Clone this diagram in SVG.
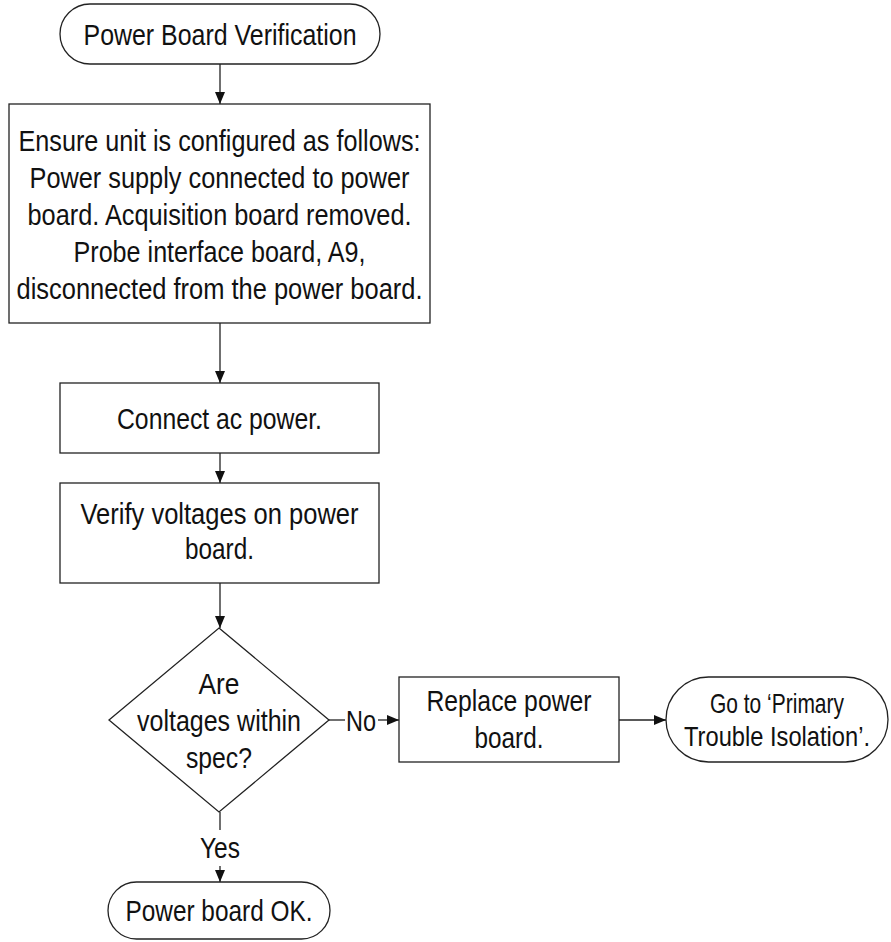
<svg xmlns="http://www.w3.org/2000/svg" width="891" height="942" viewBox="0 0 891 942">
<style>
.s{fill:#fff;stroke:#222;stroke-width:1.3}
.c{fill:none;stroke:#222;stroke-width:1.3}
text{font-family:"Liberation Sans",Arial,sans-serif;font-size:30px;fill:#111;text-anchor:middle}
.sm{font-size:28px}
</style>
<defs>
<marker id="ah" viewBox="0 0 12 10" refX="12" refY="5" markerWidth="12" markerHeight="10" markerUnits="userSpaceOnUse" orient="auto">
<path d="M0,0 L12,5 L0,10 z" fill="#111"/>
</marker>
</defs>
<rect width="891" height="942" fill="#fff"/>
<g id="connectors">
<line class="c" x1="220" y1="64" x2="220" y2="104" marker-end="url(#ah)"/>
<line class="c" x1="220" y1="323" x2="220" y2="383" marker-end="url(#ah)"/>
<line class="c" x1="220" y1="453" x2="220" y2="483" marker-end="url(#ah)"/>
<line class="c" x1="220" y1="583" x2="220" y2="628" marker-end="url(#ah)"/>
<line class="c" x1="329" y1="720" x2="345" y2="720"/>
<text x="361" y="731" textLength="30" lengthAdjust="spacingAndGlyphs">No</text>
<line class="c" x1="378" y1="720" x2="399" y2="720" marker-end="url(#ah)"/>
<line class="c" x1="619" y1="720" x2="666" y2="720" marker-end="url(#ah)"/>
<line class="c" x1="220" y1="812" x2="220" y2="830"/>
<text x="220" y="858" textLength="40" lengthAdjust="spacingAndGlyphs">Yes</text>
<line class="c" x1="220" y1="866" x2="220" y2="882" marker-end="url(#ah)"/>
</g>
<g id="start">
<rect class="s" x="60" y="4" width="320" height="60" rx="30"/>
<text x="220" y="45" textLength="273" lengthAdjust="spacingAndGlyphs">Power Board Verification</text>
</g>
<g id="ensure">
<rect class="s" x="9" y="104" width="421" height="219"/>
<text x="219.5" y="151" textLength="402" lengthAdjust="spacingAndGlyphs">Ensure unit is configured as follows:</text>
<text x="219.5" y="188" textLength="380" lengthAdjust="spacingAndGlyphs">Power supply connected to power</text>
<text x="219.5" y="225" textLength="384" lengthAdjust="spacingAndGlyphs">board. Acquisition board removed.</text>
<text x="219.5" y="262" textLength="292" lengthAdjust="spacingAndGlyphs">Probe interface board, A9,</text>
<text x="219.5" y="299" textLength="406" lengthAdjust="spacingAndGlyphs">disconnected from the power board.</text>
</g>
<g id="connect">
<rect class="s" x="60" y="383" width="319" height="70"/>
<text x="219.5" y="429" textLength="205" lengthAdjust="spacingAndGlyphs">Connect ac power.</text>
</g>
<g id="verify">
<rect class="s" x="60" y="483" width="319" height="100"/>
<text x="219.5" y="524" textLength="278" lengthAdjust="spacingAndGlyphs">Verify voltages on power</text>
<text x="219.5" y="559" textLength="69" lengthAdjust="spacingAndGlyphs">board.</text>
</g>
<g id="decision">
<polygon class="s" points="219,628 329,720 219,812 109,720"/>
<text x="219" y="694" textLength="41" lengthAdjust="spacingAndGlyphs">Are</text>
<text x="219" y="731" textLength="164" lengthAdjust="spacingAndGlyphs">voltages within</text>
<text x="219" y="768" textLength="66" lengthAdjust="spacingAndGlyphs">spec?</text>
</g>
<g id="replace">
<rect class="s" x="399" y="677" width="220" height="85"/>
<text x="509" y="711" textLength="165" lengthAdjust="spacingAndGlyphs">Replace power</text>
<text x="509" y="748" textLength="69" lengthAdjust="spacingAndGlyphs">board.</text>
</g>
<g id="goto">
<rect class="s" x="666" y="677" width="222" height="85" rx="42.5"/>
<text class="sm" x="777" y="713" textLength="134" lengthAdjust="spacingAndGlyphs">Go to ‘Primary</text>
<text class="sm" x="777" y="746" textLength="186" lengthAdjust="spacingAndGlyphs">Trouble Isolation’.</text>
</g>
<g id="ok">
<rect class="s" x="108" y="882" width="222" height="57" rx="28.5"/>
<text x="219" y="921" textLength="187" lengthAdjust="spacingAndGlyphs">Power board OK.</text>
</g>
</svg>
